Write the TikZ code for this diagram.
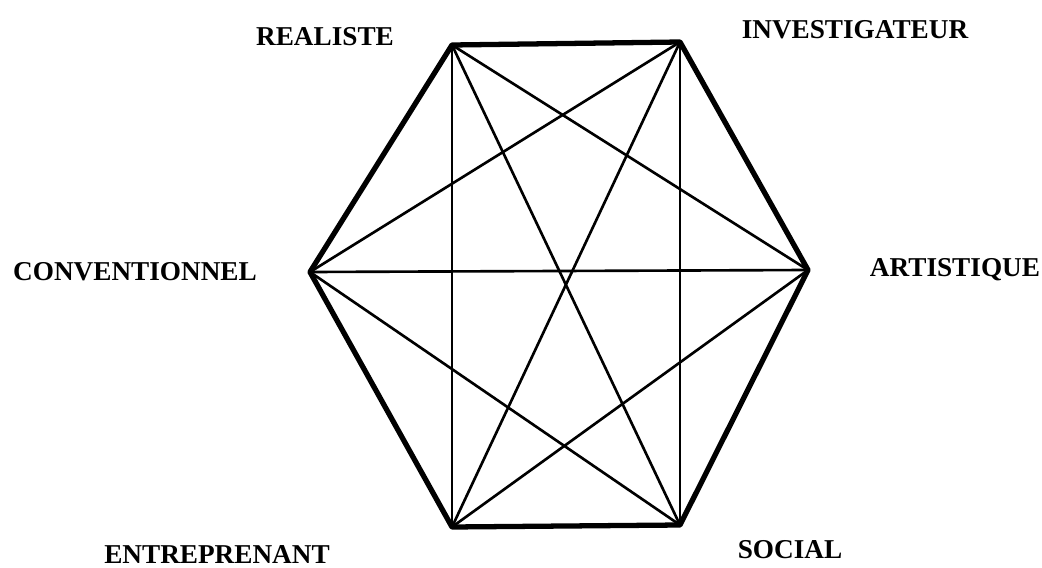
\documentclass[tikz,border=0pt]{standalone}
\usepackage{fontspec}
\setmainfont{Liberation Serif}
\usepackage{tikz}
\usetikzlibrary{positioning}

\begin{document}
\begin{tikzpicture}[
    x=0.02cm, y=-0.02cm,
    vertex/.style={inner sep=0pt, minimum size=0pt},
    label/.style={font=\fontsize{15.5}{17}\selectfont\bfseries, inner sep=0pt},
    rim/.style={line width=3pt, line join=round, line cap=round},
    chord/.style={line width=1.5pt, line cap=round},
]
    \useasboundingbox (0,0) rectangle (1042,568);

    % Hexagon corners
    \node[vertex] (r) at (452,45) {};
    \node[vertex] (i) at (680,42) {};
    \node[vertex] (a) at (808,270) {};
    \node[vertex] (s) at (680,525) {};
    \node[vertex] (e) at (452,527) {};
    \node[vertex] (c) at (310,272) {};

    % Labels
    \node[label] (rlab) at (325,37) {REALISTE};
    \node[label] (ilab) at (855,30) {INVESTIGATEUR};
    \node[label] (clab) at (135,272) {CONVENTIONNEL};
    \node[label] (alab) at (955,270) {ARTISTIQUE};
    \node[label] (elab) at (217,555) {ENTREPRENANT};
    \node[label] (slab) at (790,550) {SOCIAL};

    % Outer rim
    \draw[rim] (r.center) -- (i.center) -- (a.center) -- (s.center)
        -- (e.center) -- (c.center) -- cycle;

    % Diagonals
    \foreach \p/\q in {r/a, r/s, r/e, i/s, i/e, i/c, a/e, a/c, s/c}
        \draw[chord] (\p.center) -- (\q.center);
\end{tikzpicture}
\end{document}
